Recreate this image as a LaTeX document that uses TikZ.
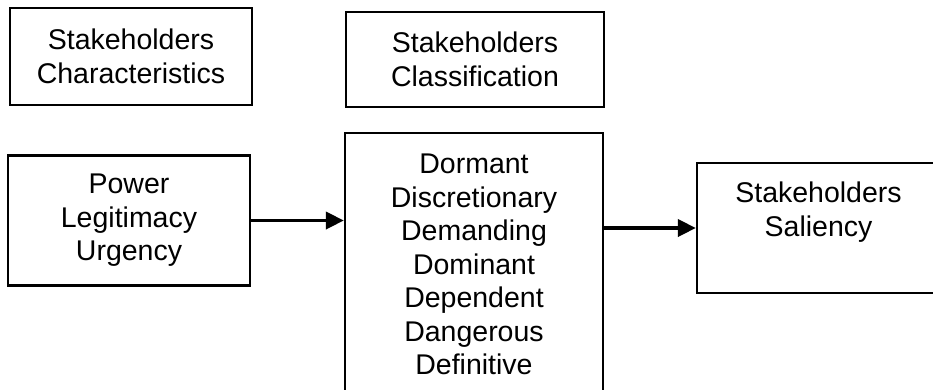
\documentclass[tikz,border=0pt]{standalone}
\usepackage{fontspec}
\setmainfont{Liberation Sans}
\usetikzlibrary{arrows.meta}
\begin{document}
\begin{tikzpicture}[x=1pt,y=-1pt,
  box/.style={draw=black, line width=2.3pt, rectangle, inner sep=0pt, align=center,
    font=\fontsize{28.5}{33.5}\selectfont},
  lbl/.style={inner sep=0pt, align=center, font=\fontsize{28.5}{33.5}\selectfont},
  flow/.style={line width=3.8pt, -{Triangle[length=18pt,width=17pt]}}]
\useasboundingbox (0,0) rectangle (933,389);
\clip (0,0) rectangle (933,389);
\fill[white] (0,0) rectangle (933,389);
\node[box, minimum width=242pt, minimum height=97pt] (char) at (131,56.5)
  {Stakeholders\\Characteristics};
\node[box, minimum width=258pt, minimum height=95pt] (class) at (475,59.5)
  {Stakeholders\\Classification};
\node[box, minimum width=242pt, minimum height=130pt] (power) at (129,220.5)
  {Power\\Legitimacy\\Urgency};
\node[box, minimum width=258pt, minimum height=263pt] (mid) at (474,264.5)
  {Dormant\\Discretionary\\Demanding\\Dominant\\Dependent\\Dangerous\\Definitive};
\node[box, minimum width=263pt, minimum height=130pt] (sal) at (828.5,228) {};
\node[lbl, anchor=north] (saltext) at (818.5,182) {Stakeholders\\Saliency};
\draw[flow] (power.east) -- (power.east -| mid.west);
\draw[flow] (mid.east |- sal.west) -- (sal.west);
\end{tikzpicture}
\end{document}
